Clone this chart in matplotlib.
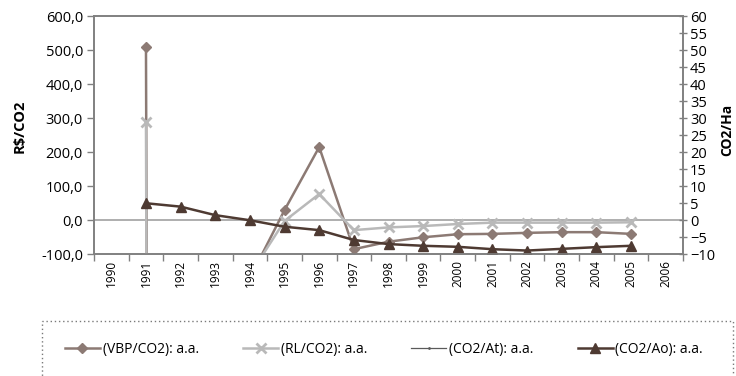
import numpy as np
import matplotlib
matplotlib.use('Agg')
import matplotlib.pyplot as plt
from matplotlib.patches import Rectangle
from matplotlib.ticker import FuncFormatter

plt.rcParams['font.family'] = ['Open Sans', 'DejaVu Sans']

years = ['1990', '1991', '1992', '1993', '1994', '1995', '1996', '1997', '1998',
         '1999', '2000', '2001', '2002', '2003', '2004', '2005', '2006']

# left axis (R$/CO2); 1992-1994 fall far below the visible range
vbp_co2 = [None, 509, -30000, -15000, -170, 30, 215, -85, -63, -50, -41, -40, -37, -35, -35, -40, None]
rl_co2 = [None, 289, -30000, -15000, -160, -2, 77, -29, -21, -17, -11, -7, -7, -7, -7, -6, None]
# right axis (CO2/Ha)
co2_at = [None] * 17
co2_ao = [None, 5.0, 4.0, 1.5, 0.0, -1.9, -2.9, -5.8, -7.0, -7.5, -7.8, -8.5, -8.9, -8.4, -7.9, -7.5, None]

labels = ['(VBP/CO2): a.a.', '(RL/CO2): a.a.', '(CO2/At): a.a.', '(CO2/Ao): a.a.']

c_vbp = '#8C7A74'
c_rl = '#B9B9B9'
c_at = '#5A5A5A'
c_ao = '#4E3A32'
c_axis = '#808080'


def to_arr(vals):
    return np.array([np.nan if v is None else v for v in vals], dtype=float)


fig = plt.figure(figsize=(7.36, 3.76), dpi=100)
ax = fig.add_axes([94 / 736, 1 - 254.3 / 376, (683 - 94) / 736, (254.3 - 16) / 376])
ax2 = ax.twinx()

x = np.arange(len(years))

ax.axhline(0, color='#A8A8A8', lw=1.3, zorder=1)
h1, = ax.plot(x, to_arr(vbp_co2), color=c_vbp, lw=1.8, marker='D', ms=5.5, zorder=3)
h2, = ax.plot(x, to_arr(rl_co2), color=c_rl, lw=1.8, marker='x', ms=7, mew=2, zorder=4)
h3, = ax2.plot(x, to_arr(co2_at), color=c_at, lw=0.9, marker='.', ms=2)
h4, = ax2.plot(x, to_arr(co2_ao), color=c_ao, lw=1.8, marker='^', ms=7.5)

ax.set_xlim(-0.5, len(years) - 0.5)
ax.set_ylim(-100, 600)
ax2.set_ylim(-10, 60)

ax.set_yticks(np.arange(-100, 601, 100))
ax.yaxis.set_major_formatter(FuncFormatter(lambda v, p: f'{v:.1f}'.replace('.', ',')))
ax2.set_yticks(np.arange(-10, 61, 5))

# x ticks between categories, labels at centers
ax.set_xticks(np.arange(-0.5, len(years), 1.0))
ax.set_xticklabels([])
ax.set_xticks(x, minor=True)
ax.set_xticklabels(years, minor=True, rotation=90, fontsize=8.5)
ax.tick_params(axis='x', which='major', length=5, width=1, color=c_axis, direction='out')
ax.tick_params(axis='x', which='minor', length=0, pad=4)

ax.tick_params(axis='y', length=5, width=1, color=c_axis, labelsize=10.5, pad=3)
ax2.tick_params(axis='y', length=6, width=1, color=c_axis, direction='inout', labelsize=10.5, pad=2)

for a in (ax, ax2):
    for s in a.spines.values():
        s.set_color(c_axis)
        s.set_linewidth(1.2)

fig.text(20 / 736, 1 - 126 / 376, 'R$/CO2', rotation=90, fontsize=10.5, fontweight='bold',
         ha='center', va='center')
fig.text(727 / 736, 1 - 130 / 376, 'CO2/Ha', rotation=90, fontsize=10, fontweight='bold',
         ha='center', va='center')

# dotted legend box running off the bottom of the image
fig.patches.append(Rectangle((42.3 / 736, -0.1), (732.7 - 42.3) / 736, 1 - 320.7 / 376 + 0.1,
                             transform=fig.transFigure, fill=False, ls=(0, (1, 2)),
                             lw=1, edgecolor='#7A7A7A'))

fig.legend([h1, h2, h3, h4], labels, loc='center', bbox_to_anchor=(384 / 736, 1 - 349 / 376),
           ncol=4, frameon=False, fontsize=10, handlelength=2.5, handletextpad=0.2,
           columnspacing=3.2)

fig.savefig('out.png', dpi=100)
